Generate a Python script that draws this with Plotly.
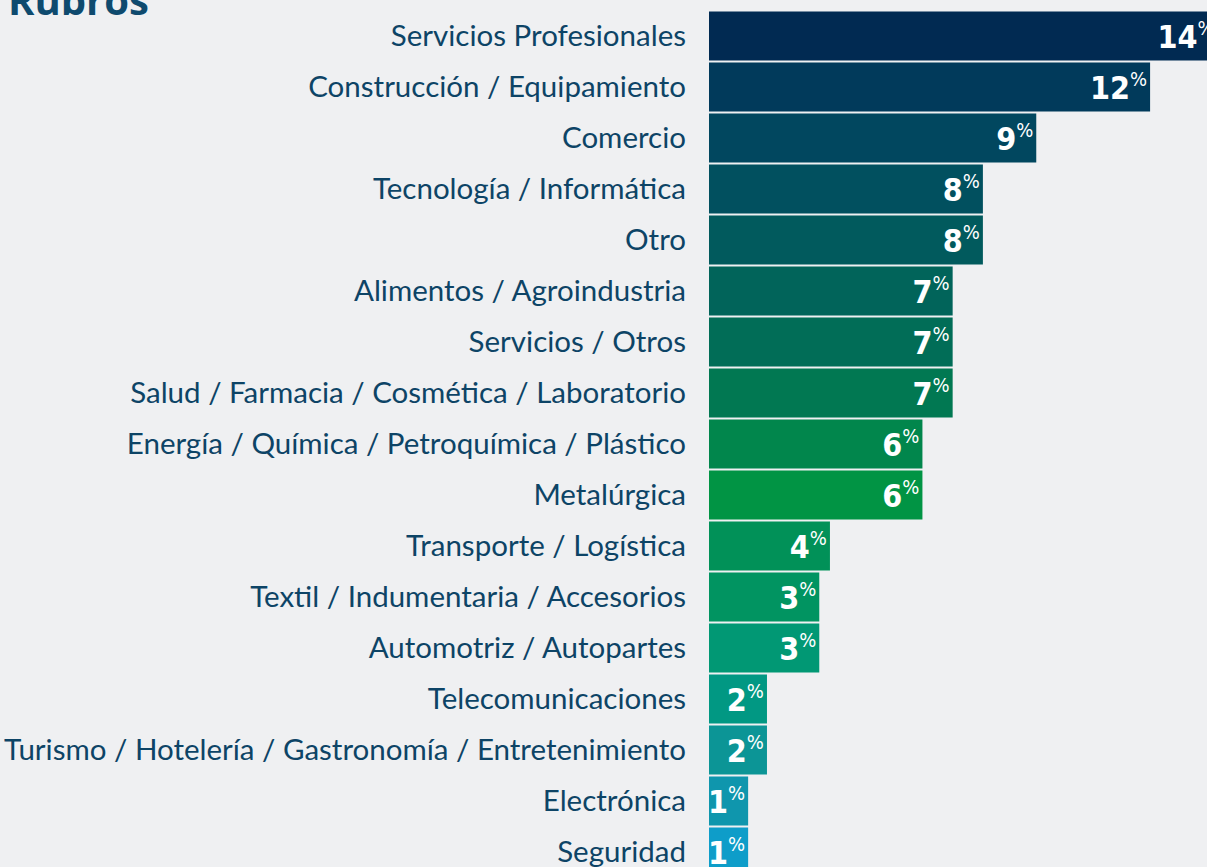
import plotly.graph_objects as go

categories = [
    "Servicios Profesionales",
    "Construcción / Equipamiento",
    "Comercio",
    "Tecnología / Informática",
    "Otro",
    "Alimentos / Agroindustria",
    "Servicios / Otros",
    "Salud / Farmacia / Cosmética / Laboratorio",
    "Energía / Química / Petroquímica / Plástico",
    "Metalúrgica",
    "Transporte / Logística",
    "Textil / Indumentaria / Accesorios",
    "Automotriz / Autopartes",
    "Telecomunicaciones",
    "Turismo / Hotelería / Gastronomía / Entretenimiento",
    "Electrónica",
    "Seguridad",
]
# percentage shown on each bar
shown_pct = [14, 12, 9, 8, 8, 7, 7, 7, 6, 6, 4, 3, 3, 2, 2, 1, 1]
# bar lengths as drawn in the picture (estimated, in % units)
bar_len = [14.3, 12.4, 9.2, 7.7, 7.7, 6.85, 6.85, 6.85, 6.0, 6.0, 3.4, 3.1, 3.1, 1.63, 1.63, 1.1, 1.1]
bar_colors = [
    "#012a52", "#013a5b", "#01475f", "#01505f", "#015a5d",
    "#01645a", "#016d57", "#017852", "#01864c", "#019444",
    "#019158", "#019461", "#019874", "#019883", "#0c9596",
    "#0f96ad", "#0e9dc9",
]

labels = [f"<b>{v}</b><sup><span style='font-size:20px'>%</span></sup>" for v in shown_pct]

fig = go.Figure(
    go.Bar(
        x=bar_len,
        y=categories,
        orientation="h",
        marker=dict(color=bar_colors, line=dict(width=0)),
        text=labels,
        textposition="inside",
        insidetextanchor="end",
        constraintext="none",
        textangle=0,
        textfont=dict(family="DejaVu Sans Condensed, Liberation Sans Narrow, sans-serif", size=32, color="white"),
        cliponaxis=True,
        hoverinfo="skip",
    )
)

fig.update_layout(
    width=1207,
    height=867,
    margin=dict(l=709, r=0, t=0, b=0),
    paper_bgcolor="#eff0f2",
    plot_bgcolor="#eff0f2",
    bargap=0.04,
    showlegend=False,
    annotations=[
        dict(
            text="<b>Rubros</b>",
            xref="paper", yref="paper",
            x=-709 / 498 + 6 / 498, y=1 - 29 / 867,
            xanchor="left", yanchor="bottom",
            showarrow=False,
            font=dict(family="Open Sans, sans-serif", size=40, color="#0e4a6e"),
        )
    ],
)
fig.update_xaxes(range=[0, 14], visible=False, fixedrange=True)
fig.update_yaxes(
    type="category",
    categoryorder="array",
    categoryarray=categories,
    range=[16.294, -0.706],
    showgrid=False,
    zeroline=False,
    showline=False,
    ticks="",
    ticklabelstandoff=22,
    automargin=False,
    fixedrange=True,
    tickfont=dict(family="Lato, sans-serif", size=29.5, color="#0d4466"),
)

fig.write_html(
    "out.html",
    config={"displayModeBar": False, "staticPlot": True},
    post_script="document.body.style.margin='0';document.body.style.background='#eff0f2';",
)
